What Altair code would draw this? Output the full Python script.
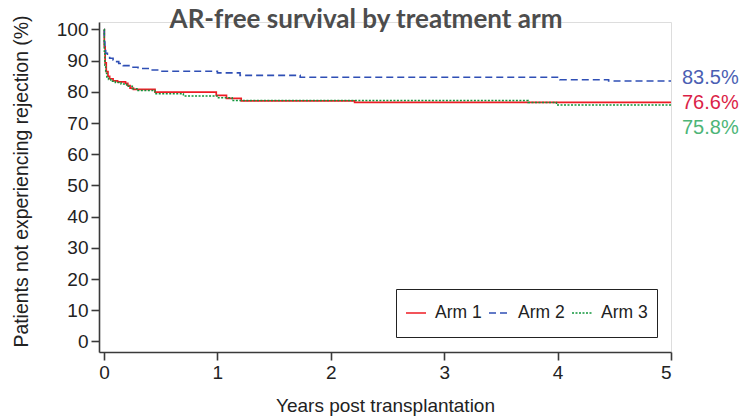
import altair as alt
import pandas as pd

# Kaplan-Meier step points (years after transplant, % free of acute rejection)
arm1_years = [0, 0.003, 0.01, 0.02, 0.035, 0.05, 0.08, 0.12, 0.19, 0.21, 0.23, 0.26, 0.45, 0.99, 1.08, 1.21, 2.21, 5.0]
arm1_pct = [100, 94.5, 89.3, 86.5, 85.0, 84.2, 83.5, 83.2, 82.7, 82.0, 81.2, 80.8, 79.9, 78.9, 77.9, 77.1, 76.6, 76.6]

arm2_years = [0, 0.003, 0.008, 0.015, 0.03, 0.05, 0.08, 0.1, 0.13, 0.17, 0.22, 0.3, 0.4, 0.5, 1.0, 1.2, 1.73, 4.02, 4.45, 5.0]
arm2_pct = [100, 96.0, 93.5, 92.4, 91.5, 90.8, 90.2, 89.7, 89.1, 88.4, 87.9, 87.5, 87.0, 86.6, 86.1, 85.3, 84.7, 83.9, 83.5, 83.5]

arm3_years = [0, 0.003, 0.008, 0.015, 0.025, 0.04, 0.06, 0.1, 0.15, 0.2, 0.25, 0.3, 0.45, 0.7, 1.0, 1.13, 3.74, 3.99, 5.0]
arm3_pct = [100, 93.0, 88.5, 86.0, 84.8, 84.0, 83.4, 83.0, 82.5, 81.8, 81.0, 80.4, 79.4, 78.7, 78.1, 77.2, 76.6, 75.8, 75.8]

arms = ["Arm 1", "Arm 2", "Arm 3"]
line_colors = ["#ee1c25", "#2f4fb5", "#10963c"]
line_dashes = [[1, 0], [7, 4], [2, 1.5]]
line_widths = [1.7, 1.5, 2.8]
label_colors = ["#db1f48", "#4b5fb3", "#4db577"]
label_dy = [1, -3, 23]

rows = []
for arm, xs, ys in zip(arms, [arm1_years, arm2_years, arm3_years], [arm1_pct, arm2_pct, arm3_pct]):
    for x, y in zip(xs, ys):
        rows.append({"arm": arm, "years": x, "pct": y})
curves = pd.DataFrame(rows)

final_df = pd.DataFrame({
    "arm": arms,
    "years": [arm1_years[-1], arm2_years[-1], arm3_years[-1]],
    "pct": [arm1_pct[-1], arm2_pct[-1], arm3_pct[-1]],
})
final_df["label"] = final_df["pct"].map(lambda v: f"{v:.1f}%")

x_scale = alt.Scale(domain=[-0.044, 5], nice=False, zero=False)
y_scale = alt.Scale(domain=[-3.4, 102.4], nice=False, zero=False)

axis_common = dict(
    labelFont="Liberation Sans", labelFontSize=19, labelColor="#222222", labelOverlap=False,
    titleFont="Liberation Sans", titleColor="#222222", titleFontWeight="normal",
    domainColor="#3a3a3a", domainWidth=1.6, tickColor="#3a3a3a", tickWidth=1.6, tickSize=8,
    grid=False,
)
x_axis = alt.Axis(values=[0, 1, 2, 3, 4, 5], format="d", title="Years post transplantation",
                  labelPadding=3, titlePadding=14, titleFontSize=19, **axis_common)
y_axis = alt.Axis(values=list(range(0, 101, 10)), title="Patients not experiencing rejection (%)",
                  labelPadding=3, titlePadding=25, titleFontSize=19.4, titleY=159, **axis_common)

lines = alt.Chart(curves).mark_line(interpolate="step-after").encode(
    x=alt.X("years:Q", scale=x_scale, axis=x_axis),
    y=alt.Y("pct:Q", scale=y_scale, axis=y_axis),
    color=alt.Color("arm:N", scale=alt.Scale(domain=arms, range=line_colors),
                    legend=alt.Legend(
                        title=None, orient="none", legendX=297, legendY=267, direction="horizontal",
                        symbolType="stroke", symbolSize=400, symbolStrokeWidth=1.8,
                        labelFont="Liberation Sans", labelFontSize=17.5, labelColor="#222222",
                        labelOffset=8, columnPadding=6, padding=9, clipHeight=30,
                        strokeColor="#222222", fillColor="white",
                    )),
    strokeDash=alt.StrokeDash("arm:N", scale=alt.Scale(domain=arms, range=line_dashes), legend=None),
    strokeWidth=alt.StrokeWidth("arm:N", scale=alt.Scale(domain=arms, range=line_widths), legend=None),
)

layers = [lines]
for arm, color, dy in zip(arms, label_colors, label_dy):
    layers.append(
        alt.Chart(final_df).transform_filter(alt.datum.arm == arm).mark_text(
            align="left", baseline="middle", dx=11, dy=dy,
            font="Liberation Sans", fontSize=20, color=color,
        ).encode(x=alt.X("years:Q", scale=x_scale, axis=x_axis),
                 y=alt.Y("pct:Q", scale=y_scale, axis=y_axis),
                 text="label:N")
    )

chart = alt.layer(*layers).properties(
    width=572, height=330,
    title=alt.TitleParams("AR-free survival by treatment arm", font="Lato", fontWeight="bold",
                          fontSize=26, color="#4d4d4d", anchor="middle", frame="group",
                          baseline="alphabetic", offset=0, dx=-19, dy=38.5),
    autosize=alt.AutoSizeParams(type="none"),
    padding={"left": 99, "top": 22, "right": 71, "bottom": 64},
).configure_view(stroke=None).configure(background="white")

chart.save("out.html", embed_options={"renderer": "svg", "actions": False})
